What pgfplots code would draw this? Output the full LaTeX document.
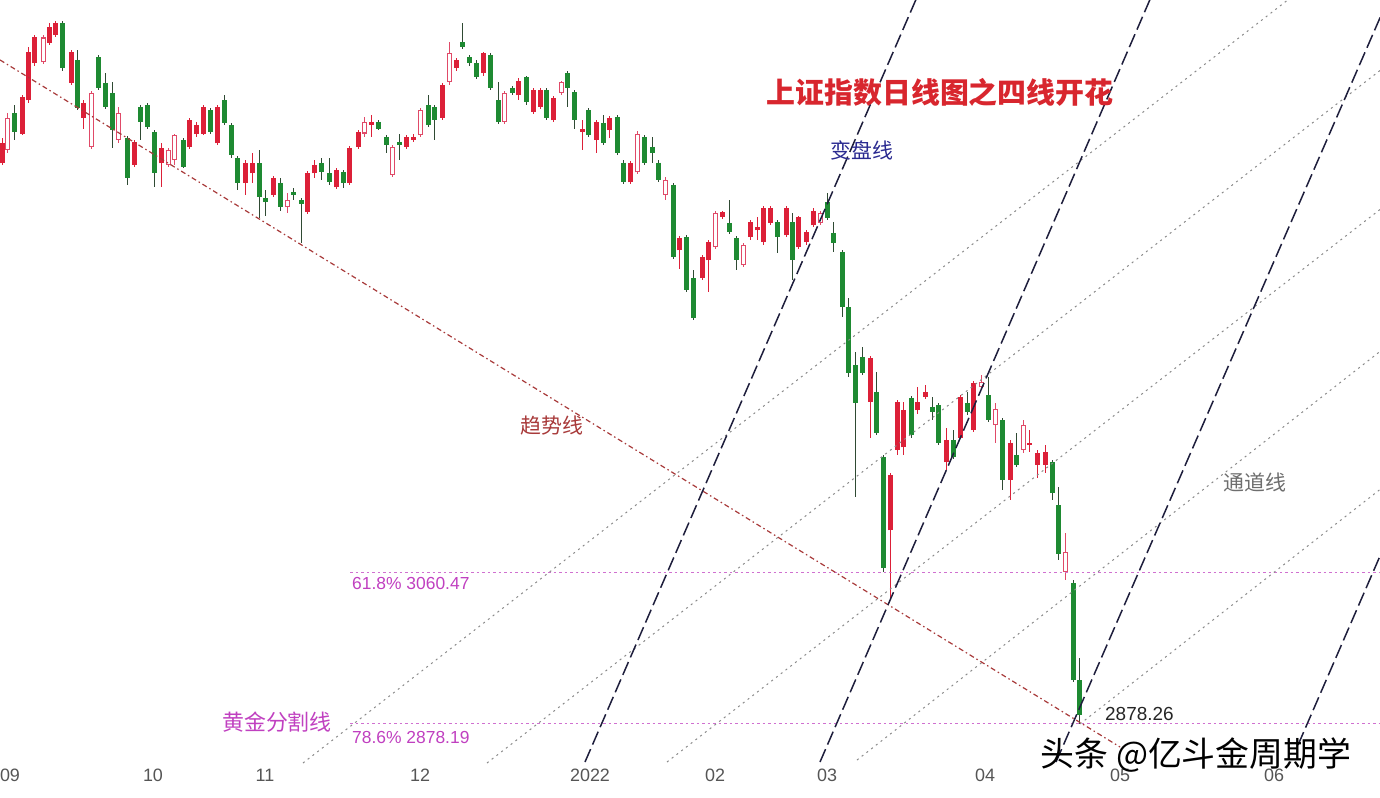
\documentclass[border=0pt]{standalone}
\usepackage{pgfplots}
\pgfplotsset{compat=1.18}
\usepackage{pgfplotstable}
\usepackage{fontspec}
\setmainfont{Liberation Sans}
\newfontfamily\cjk{Noto Sans CJK SC}

\definecolor{upred}{HTML}{DC2038}
\definecolor{hollowred}{HTML}{E04A68}
\definecolor{dngreen}{HTML}{1E8A32}
\definecolor{dnwick}{HTML}{2F4A33}
\definecolor{trendc}{HTML}{A83A3A}
\definecolor{steepc}{HTML}{1E1E3C}
\definecolor{chanc}{HTML}{8A8A8A}
\definecolor{fibc}{HTML}{D070D0}
\definecolor{fibtext}{HTML}{C040C0}
\definecolor{titlered}{HTML}{D8262E}
\definecolor{navy}{HTML}{2A2A90}
\definecolor{tickgray}{HTML}{555555}

% daily candles: x = position on time axis, open high low close
% up days, filled
\pgfplotstableread{
x o h l c
2 3555 3585 3553 3579
22 3591 3637 3589 3635
28 3631 3695 3628 3689
34 3676 3710 3673 3707
49 3700 3725 3698 3719
55 3710 3727 3707 3725
71 3652 3692 3649 3689
83 3610 3631 3597 3628
134 3553 3583 3550 3581
161 3555 3579 3526 3573
189 3575 3610 3572 3607
196 3591 3605 3587 3601
203 3591 3625 3589 3623
217 3579 3625 3577 3623
245 3531 3559 3517 3556
252 3543 3567 3531 3556
273 3517 3540 3514 3537
307 3496 3546 3494 3543
314 3543 3559 3537 3553
336 3526 3549 3524 3547
349 3531 3576 3529 3573
358 3575 3595 3572 3593
371 3601 3613 3587 3605
406 3575 3589 3572 3587
413 3583 3591 3581 3587
442 3610 3652 3607 3649
456 3670 3682 3667 3680
483 3664 3690 3661 3688
518 3637 3658 3631 3655
533 3617 3646 3614 3643
540 3623 3646 3620 3643
553 3607 3636 3605 3634
582 3593 3607 3571 3597
596 3583 3607 3567 3605
609 3595 3612 3585 3610
630 3532 3558 3530 3555
679 3450 3467 3428 3465
702 3416 3444 3414 3442
708 3438 3462 3400 3460
722 3490 3498 3488 3496
750 3466 3486 3463 3484
757 3474 3490 3462 3478
763 3460 3503 3457 3501
770 3483 3503 3480 3501
786 3468 3503 3466 3501
798 3454 3492 3451 3490
806 3460 3474 3457 3472
813 3480 3501 3478 3498
870 3267 3322 3224 3320
890 3112 3181 3028 3179
897 3209 3269 3203 3267
903 3212 3267 3203 3257
917 3257 3285 3253 3267
925 3273 3287 3271 3279
946 3194 3235 3185 3221
960 3224 3275 3222 3273
973 3233 3292 3231 3290
1010 3173 3221 3148 3218
1029 3215 3233 3206 3218
1037 3191 3209 3175 3205
1045 3191 3215 3181 3206
}\upfilled

% up days, hollow
\pgfplotstableread{
x o h l c
7 3571 3616 3568 3610
43 3677 3710 3675 3707
91 3575 3642 3572 3640
118 3583 3623 3579 3616
168 3553 3573 3550 3571
174 3559 3591 3553 3589
287 3502 3519 3495 3511
364 3591 3611 3587 3605
392 3541 3577 3538 3575
420 3589 3622 3587 3619
449 3653 3701 3649 3688
504 3605 3642 3602 3640
561 3640 3655 3637 3653
637 3544 3594 3542 3591
665 3517 3538 3511 3535
715 3454 3497 3451 3495
743 3432 3459 3430 3456
820 3483 3497 3480 3495
981 3285 3299 3281 3291
995 3239 3266 3217 3259
1023 3209 3245 3205 3239
1065 3062 3109 3052 3086
}\uphollow

% down days
\pgfplotstableread{
x o h l c
14 3616 3626 3583 3593
62 3724 3727 3667 3670
77 3680 3692 3619 3622
98 3683 3686 3643 3646
105 3652 3664 3621 3623
112 3640 3653 3573 3595
127 3585 3588 3529 3537
140 3623 3625 3583 3605
147 3625 3628 3596 3599
154 3593 3595 3526 3543
183 3583 3585 3549 3550
210 3619 3622 3590 3593
224 3631 3638 3601 3604
231 3601 3604 3562 3565
237 3561 3564 3523 3531
259 3555 3571 3489 3514
265 3513 3523 3492 3508
280 3531 3537 3498 3502
293 3520 3525 3511 3517
301 3511 3513 3459 3506
321 3555 3561 3535 3544
329 3543 3561 3529 3532
343 3544 3547 3525 3531
378 3605 3607 3595 3597
386 3587 3589 3567 3577
399 3581 3591 3559 3577
428 3625 3637 3599 3601
434 3623 3625 3583 3607
462 3701 3724 3693 3695
469 3683 3686 3673 3676
476 3676 3680 3657 3659
490 3686 3688 3643 3646
498 3631 3653 3602 3605
512 3646 3648 3637 3640
526 3659 3661 3626 3629
546 3643 3646 3607 3610
567 3664 3666 3623 3646
574 3641 3643 3597 3607
588 3619 3622 3587 3589
603 3604 3613 3577 3579
617 3611 3613 3565 3567
623 3556 3559 3530 3532
644 3587 3589 3553 3555
652 3575 3587 3555 3567
658 3556 3559 3532 3535
673 3529 3531 3439 3442
686 3466 3468 3400 3402
693 3416 3426 3366 3368
729 3483 3511 3470 3472
736 3465 3467 3426 3438
777 3484 3486 3447 3466
792 3484 3495 3414 3438
827 3508 3519 3486 3489
833 3471 3484 3448 3459
842 3448 3450 3369 3381
848 3381 3392 3297 3302
855 3311 3327 3152 3266
862 3321 3333 3299 3302
876 3279 3303 3227 3229
883 3200 3203 3062 3066
911 3272 3274 3224 3227
932 3261 3273 3245 3255
938 3263 3266 3215 3217
953 3221 3233 3198 3200
967 3266 3279 3251 3255
988 3275 3297 3243 3245
1002 3245 3247 3161 3173
1016 3203 3229 3188 3191
1052 3194 3197 3148 3157
1058 3142 3164 3076 3084
1073 3048 3052 2929 2931
1079 2931 2958 2878.26 2889
}\down

\pgfplotsset{
  wick/.style={draw=none, mark=none, forget plot,
    error bars/.cd, y dir=both, y explicit, error mark=none,
    error bar style={draw=#1, line width=1bp}},
  body/.style 2 args={draw=none, mark=none, forget plot,
    error bars/.cd, y dir=both, y explicit, error mark=none,
    error bar style={draw=#1, line width=#2}},
}

\begin{document}
\begin{tikzpicture}
\begin{axis}[
  at={(0,0)}, anchor=south west,
  width=1380bp, height=798bp, scale only axis,
  xmin=0, xmax=1380, ymin=2788.85, ymax=3752.2,
  axis line style={draw=none},
  major tick length=0pt,
  ytick=\empty,
  xtick={10,153,265,420,590,715,827,985,1120,1274},
  xticklabels={09,10,11,12,2022,02,03,04,05,06},
  xticklabel style={font=\fontsize{18}{18}\selectfont, text=tickgray,
    anchor=center, yshift=23bp},
  /pgf/number format/assume math mode=true,
]

% wicks
\addplot[wick=upred] table[x=x, y=o,
  y error plus expr=\thisrow{h}-\thisrow{o},
  y error minus expr=\thisrow{o}-\thisrow{l}] {\upfilled};
\addplot[wick=hollowred] table[x=x, y=o,
  y error plus expr=\thisrow{h}-\thisrow{o},
  y error minus expr=\thisrow{o}-\thisrow{l}] {\uphollow};
\addplot[wick=dnwick] table[x=x, y=o,
  y error plus expr=\thisrow{h}-\thisrow{o},
  y error minus expr=\thisrow{o}-\thisrow{l}] {\down};

% bodies
\addplot[body={upred}{5bp}] table[x=x, y=o,
  y error plus expr=\thisrow{c}-\thisrow{o},
  y error minus expr=0] {\upfilled};
\addplot[body={hollowred}{5bp}] table[x=x, y=o,
  y error plus expr=\thisrow{c}-\thisrow{o},
  y error minus expr=0] {\uphollow};
\addplot[body={white}{3bp}] table[x=x, y expr=\thisrow{o}+1.3,
  y error plus expr={max(\thisrow{c}-\thisrow{o}-2.6,0)},
  y error minus expr=0] {\uphollow};
\addplot[body={dngreen}{5bp}] table[x=x, y=o,
  y error plus expr=0,
  y error minus expr=\thisrow{o}-\thisrow{c}] {\down};

% golden section levels
\addplot[fibc, line width=1bp, dash pattern=on 2.5bp off 3bp]
  coordinates {(350,3060.47) (1380,3060.47)};
\addplot[fibc, line width=1bp, dash pattern=on 2.5bp off 3bp]
  coordinates {(350,2878.19) (1380,2878.19)};

% channel lines
\addplot[chanc, line width=1bp, dash pattern=on 2bp off 4bp]
  coordinates {(303,2831.1) (1380,3838.5)};
\addplot[chanc, line width=1bp, dash pattern=on 2bp off 4bp]
  coordinates {(487,2831.1) (1380,3667.1)};
\addplot[chanc, line width=1bp, dash pattern=on 2bp off 4bp]
  coordinates {(667,2832.3) (1380,3499.3)};
\addplot[chanc, line width=1bp, dash pattern=on 2bp off 4bp]
  coordinates {(857,2834.7) (1380,3327.9)};
\addplot[chanc, line width=1bp, dash pattern=on 2bp off 4bp]
  coordinates {(1080,2878.26) (1380,3161.3)};

% trend line
\addplot[trendc, line width=1.2bp, dash pattern=on 5bp off 3bp on 1.5bp off 3bp]
  coordinates {(0,3679.8) (1120,2850.4)};

% turning lines
\addplot[steepc, line width=1.5bp, dash pattern=on 14bp off 5bp]
  coordinates {(585,2832.3) (920,3764)};
\addplot[steepc, line width=1.5bp, dash pattern=on 14bp off 5bp]
  coordinates {(820,2832.3) (1154,3764)};
\addplot[steepc, line width=1.5bp, dash pattern=on 14bp off 5bp]
  coordinates {(1056,2832.3) (1392,3764)};
\addplot[steepc, line width=1.5bp, dash pattern=on 14bp off 5bp]
  coordinates {(1298,2852.8) (1380,3081.0)};

% texts
\node[font=\cjk\bfseries\fontsize{29}{29}\selectfont, text=titlered]
  at (axis cs:940,3641) {上证指数日线图之四线开花};
\node[font=\cjk\fontsize{21}{21}\selectfont, text=navy]
  at (axis cs:862,3571) {变盘线};
\node[font=\cjk\fontsize{21}{21}\selectfont, text=trendc]
  at (axis cs:552,3239) {趋势线};
\node[font=\cjk\fontsize{21}{21}\selectfont, text=chanc!80!black]
  at (axis cs:1255,3170) {通道线};
\node[font=\cjk\fontsize{22}{22}\selectfont, text=fibtext]
  at (axis cs:277,2881) {黄金分割线};
\node[font=\fontsize{17.5}{17.5}\selectfont, text=fibtext, anchor=west, inner sep=0pt]
  at (axis cs:352,3048) {61.8\% 3060.47};
\node[font=\fontsize{17.5}{17.5}\selectfont, text=fibtext, anchor=west, inner sep=0pt]
  at (axis cs:352,2862) {78.6\% 2878.19};
\node[font=\fontsize{19}{19}\selectfont, text=black!85, anchor=west, inner sep=0pt]
  at (axis cs:1105,2890) {2878.26};
\node[font=\cjk\fontsize{34}{34}\selectfont, text=black]
  at (axis cs:1196,2841) {头条 @亿斗金周期学};
\end{axis}
\pgfresetboundingbox
\useasboundingbox (0,0) rectangle (1380bp,798bp);
\end{tikzpicture}
\end{document}
